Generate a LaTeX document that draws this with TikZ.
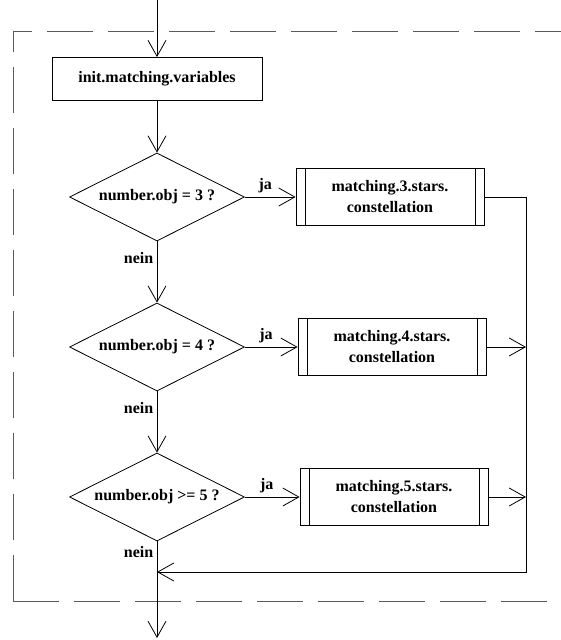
\documentclass[tikz,border=0pt]{standalone}
\usepackage{fontspec}
\setmainfont{Liberation Serif}
\usepackage{tikz}
\usetikzlibrary{shapes.geometric, arrows.meta, positioning}
\definecolor{framegray}{RGB}{90,90,90}

\begin{document}
\begin{tikzpicture}[x=1pt, y=-1pt, line width=0.8pt,
  every node/.style={font=\fontsize{16}{21}\selectfont\bfseries},
  flow/.style={-{Straight Barb[length=16pt,width=18pt]}},
  taskbox/.style={draw, minimum width=210pt, minimum height=43pt, inner sep=0pt},
  subbox/.style={draw, align=center, minimum width=188pt, minimum height=57pt, inner sep=0pt,
    path picture={
      \draw ([xshift=9pt]path picture bounding box.north west) -- ([xshift=9pt]path picture bounding box.south west);
      \draw ([xshift=-9pt]path picture bounding box.north east) -- ([xshift=-9pt]path picture bounding box.south east);}},
  decision/.style={draw, diamond, aspect=2, minimum width=175pt, minimum height=88pt, inner sep=0pt},
  frame/.style={framegray, dash pattern=on 46pt off 15pt}]
  \useasboundingbox (0,0) rectangle (561,640);

  % dashed frame round the block
  \draw[frame] (13,601) -- (13,31);
  \draw[frame, dash phase=27pt] (13,31) -- (561,31);
  \draw[frame] (13,601) -- (561,601);

  % main column
  \coordinate (entry) at (157,0);
  \node[taskbox] (init) at (157,79) {init.matching.variables};
  \node[decision] (dthree) at (157,197) {number.obj = 3 ?};
  \node[decision] (dfour) at (157,347) {number.obj = 4 ?};
  \node[decision] (dfive) at (157,497) {number.obj >= 5 ?};
  \coordinate (merge) at (157,572);
  \coordinate (exit) at (157,638);

  % sub processes
  \node[subbox] (mthree) at (390,197) {matching.3.stars.\\constellation};
  \node[subbox] (mfour) at (392,347) {matching.4.stars.\\constellation};
  \node[subbox] (mfive) at (394,497) {matching.5.stars.\\constellation};
  \coordinate (loopend) at (526,572);

  \draw[flow] (entry) -- (init);
  \draw[flow] (init) -- (dthree);
  \draw[flow] (dthree) -- node[pos=0.27, left] {nein} (dfour);
  \draw[flow] (dfour) -- node[pos=0.27, left] {nein} (dfive);
  \draw[flow] (dfive) -- node[pos=0.11, left] {nein} (exit);

  \draw[flow] (dthree) -- node[pos=0.4, above] {ja} (mthree);
  \draw[flow] (dfour) -- node[pos=0.4, above] {ja} (mfour);
  \draw[flow] (dfive) -- node[pos=0.4, above] {ja} (mfive);

  % back to the main column
  \draw[flow] (mthree.east) -| (loopend) -- (merge);
  \draw[flow] (mfour.east) -- (mfour.east -| loopend);
  \draw[flow] (mfive.east) -- (mfive.east -| loopend);
\end{tikzpicture}
\end{document}
